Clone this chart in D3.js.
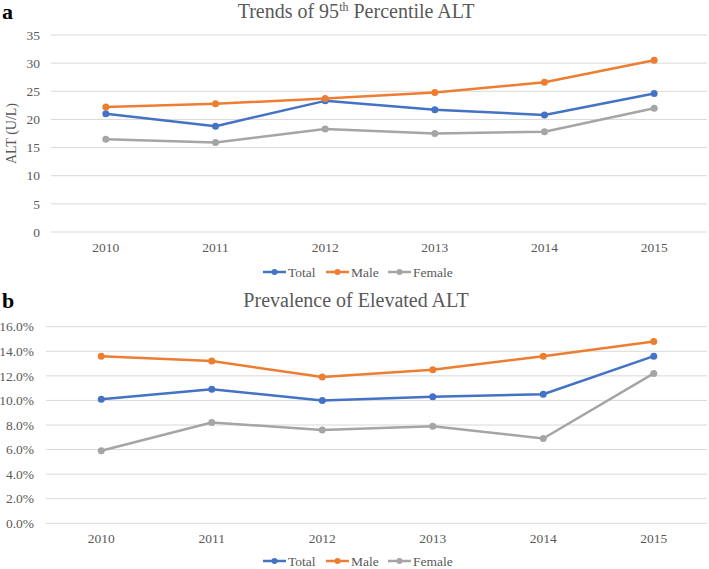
<!DOCTYPE html>
<html>
<head>
<meta charset="utf-8">
<script src="https://cdn.jsdelivr.net/npm/d3@7"></script>
<style>
  body { margin: 0; background: #fff; }
  svg { display: block; }
  text { font-family: "Liberation Serif", "Times New Roman", serif; }
</style>
</head>
<body>
<svg id="chart" width="709" height="569"></svg>
<script>
const years = ["2010", "2011", "2012", "2013", "2014", "2015"];
const seriesNames = ["Total", "Male", "Female"];
const seriesColors = ["#4472C4", "#ED7D31", "#A5A5A5"];

// panel a: 95th percentile ALT (U/L)
const altTotal = [21.0, 18.8, 23.3, 21.7, 20.8, 24.6];
const altMale = [22.2, 22.8, 23.7, 24.8, 26.6, 30.5];
const altFemale = [16.5, 15.9, 18.3, 17.5, 17.8, 22.0];
const altTicks = [0, 5, 10, 15, 20, 25, 30, 35];

// panel b: prevalence of elevated ALT (%)
const prevTotal = [10.1, 10.9, 10.0, 10.3, 10.5, 13.6];
const prevMale = [13.6, 13.2, 11.9, 12.5, 13.6, 14.8];
const prevFemale = [5.9, 8.2, 7.6, 7.9, 6.9, 12.2];
const prevTicks = [0, 2, 4, 6, 8, 10, 12, 14, 16];

const svg = d3.select("#chart");
const grey = "#595959";

function drawPanel(p) {
  const g = svg.append("g");
  const x = d3.scalePoint().domain(years).range([p.left, 709]).padding(0.5);
  const y = d3.scaleLinear().domain([0, p.max]).range([p.bottom, p.top]);

  // gridlines
  g.selectAll(".grid").data(p.ticks).join("line")
    .attr("x1", p.left).attr("x2", 707)
    .attr("y1", d => y(d)).attr("y2", d => y(d))
    .attr("stroke", "#d9d9d9").attr("stroke-width", 1);

  // y tick labels
  g.selectAll(".ytick").data(p.ticks).join("text")
    .attr("x", p.labelX).attr("y", d => y(d)).attr("dy", "0.35em")
    .attr("text-anchor", "end").attr("font-size", 13.5).attr("fill", grey)
    .text(p.fmt);

  // x tick labels
  g.selectAll(".xtick").data(years).join("text")
    .attr("x", d => x(d)).attr("y", p.bottom + 20)
    .attr("text-anchor", "middle").attr("font-size", 13.5).attr("fill", grey)
    .text(d => d);

  const line = d3.line().x((d, i) => x(years[i])).y(d => y(d));
  p.series.forEach((vals, k) => {
    g.append("path").datum(vals)
      .attr("d", line).attr("fill", "none")
      .attr("stroke", seriesColors[k]).attr("stroke-width", 2.5)
      .attr("stroke-linejoin", "round");
    g.selectAll(".pt" + k).data(vals).join("circle")
      .attr("cx", (d, i) => x(years[i])).attr("cy", d => y(d))
      .attr("r", 3.5).attr("fill", seriesColors[k]);
  });

  // panel letter
  g.append("text").attr("x", 2).attr("y", p.titleY + 1)
    .attr("font-size", 22).attr("font-weight", "bold").attr("fill", "#000")
    .text(p.letter);

  // title
  const t = g.append("text").attr("x", 356).attr("y", p.titleY)
    .attr("text-anchor", "middle").attr("font-size", 20).attr("fill", grey);
  p.title.forEach(part => {
    const ts = t.append("tspan").text(part.text);
    if (part.sup) ts.attr("font-size", 12).attr("dy", -7);
    else if (part.after) ts.attr("dy", 7);
  });

  // legend
  const lg = g.append("g").attr("transform", `translate(0,${p.legendY})`);
  const legX = [263, 326, 388];
  seriesNames.forEach((name, k) => {
    lg.append("line").attr("x1", legX[k]).attr("x2", legX[k] + 23)
      .attr("y1", 0).attr("y2", 0)
      .attr("stroke", seriesColors[k]).attr("stroke-width", 2.5);
    lg.append("circle").attr("cx", legX[k] + 11.5).attr("cy", 0)
      .attr("r", 3).attr("fill", seriesColors[k]);
    lg.append("text").attr("x", legX[k] + 25).attr("y", 0).attr("dy", "0.35em")
      .attr("font-size", 13.5).attr("fill", grey).text(name);
  });

  if (p.yLabel) {
    g.append("text")
      .attr("transform", `translate(16,${(p.top + p.bottom) / 2}) rotate(-90)`)
      .attr("text-anchor", "middle").attr("font-size", 14).attr("fill", grey)
      .text(p.yLabel);
  }
}

drawPanel({
  letter: "a",
  title: [{ text: "Trends of 95" }, { text: "th", sup: true }, { text: " Percentile ALT", after: true }],
  titleY: 18,
  left: 51, top: 35, bottom: 232, max: 35,
  ticks: altTicks, fmt: d => d, labelX: 40,
  series: [altTotal, altMale, altFemale],
  legendY: 272,
  yLabel: "ALT (U/L)"
});

drawPanel({
  letter: "b",
  title: [{ text: "Prevalence of Elevated ALT" }],
  titleY: 307,
  left: 46, top: 326.7, bottom: 523.3, max: 16,
  ticks: prevTicks, fmt: d => d.toFixed(1) + "%", labelX: 34,
  series: [prevTotal, prevMale, prevFemale],
  legendY: 561
});
</script>
</body>
</html>
